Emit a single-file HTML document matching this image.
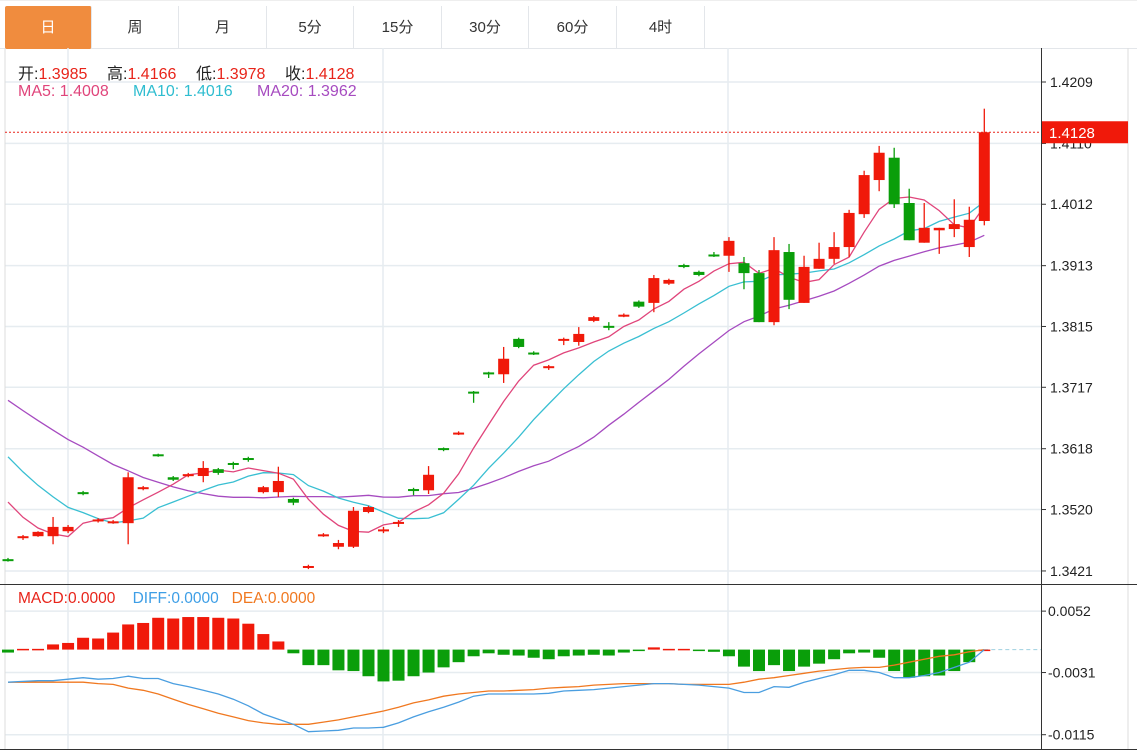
<!DOCTYPE html>
<html><head><meta charset="utf-8">
<style>
body{margin:0;width:1137px;height:752px;background:#fff;font-family:"Liberation Sans","Noto Sans CJK SC",sans-serif;overflow:hidden;position:relative}
.tab{position:absolute;top:5px;height:43px;line-height:43px;text-align:center;font-size:15px;color:#333;border-right:1px solid #e3e6ea;box-sizing:border-box}
.tab.on{background:#f08c3e;color:#fff;border-radius:2px}
#tabs{position:absolute;left:0;top:0;width:1137px;height:49px;border-bottom:1px solid #e3e6ea;border-top:1px solid #eee;box-sizing:border-box}
.hd{position:absolute;font-size:16px;white-space:nowrap}
svg{position:absolute;left:0;top:0}
</style></head><body>
<div id="tabs">
<div class="tab on" style="left:5px;width:87px">日</div>
<div class="tab" style="left:92px;width:87px">周</div>
<div class="tab" style="left:179px;width:88px">月</div>
<div class="tab" style="left:267px;width:87px">5分</div>
<div class="tab" style="left:354px;width:88px">15分</div>
<div class="tab" style="left:442px;width:87px">30分</div>
<div class="tab" style="left:529px;width:88px">60分</div>
<div class="tab" style="left:617px;width:88px">4时</div>
</div>
<svg id="chart" width="1137" height="752"></svg>
<div>
<div class="hd" style="left:18px;top:60px"><span style="color:#222">开:</span><span style="color:#e8241a">1.3985</span></div>
<div class="hd" style="left:107px;top:60px"><span style="color:#222">高:</span><span style="color:#e8241a">1.4166</span></div>
<div class="hd" style="left:196px;top:60px"><span style="color:#222">低:</span><span style="color:#e8241a">1.3978</span></div>
<div class="hd" style="left:285px;top:60px"><span style="color:#222">收:</span><span style="color:#e8241a">1.4128</span></div>
</div>
<div>
<div class="hd" style="left:18px;top:83px;color:#e0457b">MA5: 1.4008</div>
<div class="hd" style="left:133px;top:83px;color:#2fbdd0">MA10: 1.4016</div>
<div class="hd" style="left:257px;top:83px;color:#a64bc0">MA20: 1.3962</div>
</div>
<div class="hd" style="left:18px;top:590px;font-size:15.5px"><span style="color:#e8241a">MACD:0.0000</span>&nbsp;&nbsp;&nbsp;&nbsp;<span style="color:#3d9ee6">DIFF:0.0000</span>&nbsp;&nbsp;&nbsp;<span style="color:#f07820">DEA:0.0000</span></div>
<script>
const opens=[1.3440,1.3475,1.3477,1.3477,1.3485,1.3548,1.3501,1.3499,1.3498,1.3554,1.3609,1.3572,1.3574,1.3574,1.3585,1.3595,1.3603,1.3548,1.3548,1.3537,1.3427,1.3478,1.3460,1.3460,1.3516,1.3486,1.3498,1.3553,1.3551,1.3619,1.3642,1.3710,1.3741,1.3738,1.3795,1.3773,1.3748,1.3792,1.3790,1.3824,1.3816,1.3832,1.3855,1.3853,1.3884,1.3914,1.3903,1.3931,1.3929,1.3917,1.3901,1.3822,1.3935,1.3853,1.3908,1.3924,1.3943,1.3996,1.4051,1.4087,1.4014,1.3950,1.3970,1.3972,1.3943,1.3985];
const highs=[1.3442,1.3479,1.3485,1.3508,1.3495,1.3550,1.3506,1.3503,1.3580,1.3558,1.3610,1.3574,1.3579,1.3598,1.3587,1.3597,1.3605,1.3558,1.3589,1.3539,1.3431,1.3482,1.3471,1.3524,1.3526,1.3492,1.3503,1.3555,1.3590,1.3620,1.3646,1.3711,1.3742,1.3782,1.3797,1.3775,1.3753,1.3797,1.3814,1.3832,1.3822,1.3836,1.3857,1.3898,1.3892,1.3916,1.3905,1.3935,1.3959,1.3927,1.3906,1.3959,1.3948,1.3929,1.3950,1.3967,1.4003,1.4066,1.4106,1.4103,1.4037,1.4014,1.3974,1.4020,1.4008,1.4166];
const lows=[1.3436,1.3471,1.3476,1.3464,1.3482,1.3543,1.3499,1.3497,1.3464,1.3551,1.3605,1.3566,1.3572,1.3564,1.3576,1.3585,1.3597,1.3546,1.3540,1.3527,1.3424,1.3476,1.3456,1.3458,1.3514,1.3482,1.3492,1.3543,1.3545,1.3614,1.3640,1.3692,1.3732,1.3724,1.3780,1.3769,1.3745,1.3785,1.3784,1.3822,1.3809,1.3830,1.3845,1.3838,1.3882,1.3909,1.3896,1.3927,1.3903,1.3875,1.3822,1.3817,1.3843,1.3853,1.3908,1.3916,1.3927,1.3990,1.4033,1.4006,1.3954,1.3950,1.3932,1.3959,1.3927,1.3978];
const closes=[1.3438,1.3477,1.3484,1.3492,1.3492,1.3545,1.3504,1.3501,1.3572,1.3556,1.3607,1.3568,1.3577,1.3587,1.3579,1.3592,1.3600,1.3556,1.3566,1.3531,1.3429,1.3480,1.3466,1.3518,1.3524,1.3488,1.3500,1.3550,1.3576,1.3617,1.3644,1.3708,1.3739,1.3763,1.3782,1.3771,1.3751,1.3795,1.3803,1.3830,1.3813,1.3834,1.3847,1.3893,1.3890,1.3911,1.3898,1.3929,1.3953,1.3901,1.3822,1.3938,1.3858,1.3911,1.3924,1.3943,1.3998,1.4059,1.4095,1.4012,1.3954,1.3974,1.3974,1.3980,1.3987,1.4128];
const priorCloses=[1.3810,1.3805,1.3800,1.3795,1.3790,1.3785,1.3780,1.3775,1.3770,1.3760,1.3720,1.3700,1.3680,1.3660,1.3630,1.3600,1.3570,1.3540,1.3512];
const macdHist=[-0.0004,0.0001,0.0001,0.0007,0.0009,0.0016,0.0015,0.0023,0.0034,0.0036,0.0043,0.0042,0.0044,0.0044,0.0043,0.0042,0.0035,0.0021,0.0011,-0.0005,-0.0021,-0.0021,-0.0028,-0.0029,-0.0036,-0.0043,-0.0042,-0.0036,-0.0031,-0.0024,-0.0017,-0.0009,-0.0005,-0.0007,-0.0008,-0.0011,-0.0013,-0.0009,-0.0008,-0.0007,-0.0008,-0.0004,-0.0001,0.0003,0.0001,0.0001,-0.0001,-0.0003,-0.0009,-0.0023,-0.0029,-0.0021,-0.0029,-0.0023,-0.0019,-0.0013,-0.0005,-0.0004,-0.0011,-0.0029,-0.0038,-0.0036,-0.0035,-0.0029,-0.0017,0];
const diffVals=[-0.0044,-0.0043,-0.0042,-0.0042,-0.0040,-0.0038,-0.0040,-0.0039,-0.0036,-0.0039,-0.0039,-0.0046,-0.0050,-0.0055,-0.0060,-0.0067,-0.0076,-0.0087,-0.0094,-0.0101,-0.0111,-0.0110,-0.0109,-0.0106,-0.0106,-0.0105,-0.0099,-0.0091,-0.0084,-0.0078,-0.0071,-0.0063,-0.0060,-0.0060,-0.0060,-0.0060,-0.0059,-0.0056,-0.0055,-0.0054,-0.0052,-0.0050,-0.0048,-0.0046,-0.0046,-0.0047,-0.0048,-0.0050,-0.0052,-0.0058,-0.0058,-0.0050,-0.0051,-0.0044,-0.0039,-0.0034,-0.0028,-0.0028,-0.0031,-0.0038,-0.0038,-0.0035,-0.0031,-0.0024,-0.0017,0];
const deaVals=[-0.0044,-0.0044,-0.0044,-0.0044,-0.0044,-0.0044,-0.0046,-0.0047,-0.0052,-0.0055,-0.0060,-0.0067,-0.0074,-0.0080,-0.0086,-0.0091,-0.0096,-0.0099,-0.0101,-0.0101,-0.0101,-0.0098,-0.0095,-0.0091,-0.0087,-0.0083,-0.0078,-0.0072,-0.0068,-0.0063,-0.0060,-0.0058,-0.0056,-0.0056,-0.0055,-0.0054,-0.0052,-0.0051,-0.0050,-0.0048,-0.0047,-0.0046,-0.0046,-0.0046,-0.0046,-0.0047,-0.0047,-0.0047,-0.0047,-0.0044,-0.0040,-0.0038,-0.0035,-0.0032,-0.0029,-0.0027,-0.0025,-0.0024,-0.0024,-0.0021,-0.0017,-0.0013,-0.0009,-0.0007,-0.0003,0];
const priceTicks=[1.4209,1.4110,1.4012,1.3913,1.3815,1.3717,1.3618,1.3520,1.3421];
const macdTicks=[0.0052,-0.0031,-0.0115];
const lastLabel='1.4128';

const NS='http://www.w3.org/2000/svg';
const svg=document.getElementById('chart');
function mk(tag,attrs,parent){const e=document.createElementNS(NS,tag);for(const k in attrs)e.setAttribute(k,attrs[k]);(parent||svg).appendChild(e);return e;}
const xAt=i=>8+15.02*i;
const yP=p=>82+(1.4209-p)*6205;
const yM=v=>649.6-v*7400;
const RED='#f0190a',GREEN='#0a9e0a';

for(const t of priceTicks){
  const g=mk('line',{x1:5,x2:1041,y1:yP(t),y2:yP(t),stroke:'#e6ecf0','stroke-width':1.5});
  
  
  mk('line',{x1:1041,x2:1046,y1:yP(t),y2:yP(t),stroke:'#333'});
  const tx=mk('text',{x:1050,y:yP(t)+5,'font-size':14,fill:'#222','font-family':'Liberation Sans, sans-serif'});
  tx.textContent=t.toFixed(4);
  
  
}
for(const t of macdTicks){
  mk('line',{x1:5,x2:1041,y1:yM(t),y2:yM(t),stroke:'#e6ecf0','stroke-width':1.5});
  mk('line',{x1:1041,x2:1046,y1:yM(t),y2:yM(t),stroke:'#333'});
  const tx=mk('text',{x:1048,y:yM(t)+5,'font-size':14,fill:'#222','font-family':'Liberation Sans, sans-serif'});
  tx.textContent=t.toFixed(4);
  
  
}
for(const vx of [68,383,728]){mk('line',{x1:vx,x2:vx,y1:48,y2:750,stroke:'#e6ecf0','stroke-width':1.5});}
mk('line',{x1:5,x2:5,y1:48,y2:750,stroke:'#ddd'});
mk('line',{x1:1128,x2:1128,y1:48,y2:750,stroke:'#ddd'});
mk('line',{x1:1041.5,x2:1041.5,y1:48,y2:750,stroke:'#333'});
mk('line',{x1:0,x2:1137,y1:584.5,y2:584.5,stroke:'#333'});
mk('line',{x1:0,x2:1137,y1:749.5,y2:749.5,stroke:'#333'});

const all=priorCloses.concat(closes);
function ma(n){return closes.map((c,i)=>{let s=0;const j=i+priorCloses.length;for(let k=j-n+1;k<=j;k++)s+=all[k];return s/n;});}
function line(vals,yf,color,name){
  const pts=vals.map((v,i)=>xAt(i).toFixed(1)+','+yf(v).toFixed(1));
  const pl=mk('polyline',{points:pts.join(' '),fill:'none',stroke:color,'stroke-width':1.3});
  
  
}
line(ma(20),yP,'#a64bc0','ma20-line');
line(ma(10),yP,'#39bfd2','ma10-line');
line(ma(5),yP,'#e0457b','ma5-line');

opens.forEach((o,i)=>{
  const c=closes[i],up=c>=o,col=up?RED:GREEN,x=xAt(i);
  const g=mk('g',{});
  
  
  mk('line',{x1:x,x2:x,y1:yP(highs[i]),y2:yP(lows[i]),stroke:col,'stroke-width':1.3},g);
  const top=yP(Math.max(o,c)),h=Math.max(2,Math.abs(yP(o)-yP(c)));
  mk('rect',{x:x-5.5,y:top,width:11,height:h,fill:col},g);
});

const ly=yP(closes[closes.length-1]);
mk('line',{x1:5,x2:1041,y1:ly,y2:ly,stroke:'#e8241a','stroke-dasharray':'2,2'});
const lb=mk('rect',{x:1042,y:ly-11,width:86,height:22,fill:'#f0190a'});


const lt=mk('text',{x:1049,y:ly+5.5,'font-size':15,fill:'#fff','font-family':'Liberation Sans, sans-serif'});
lt.textContent=lastLabel;

mk('line',{x1:xAt(65),x2:1041,y1:yM(0),y2:yM(0),stroke:'#9fd0e0','stroke-dasharray':'4,3'});
macdHist.forEach((v,i)=>{
  const x=xAt(i),y0=yM(0),y1=yM(v);
  const r=mk('rect',{x:x-6,y:Math.min(y0,y1),width:12,height:Math.max(1.5,Math.abs(y1-y0)),fill:v>=0?RED:GREEN});
  
  
});
line(deaVals,yM,'#f07820','dea-line');
line(diffVals,yM,'#4a9ee0','diff-line');
</script>
</body></html>
